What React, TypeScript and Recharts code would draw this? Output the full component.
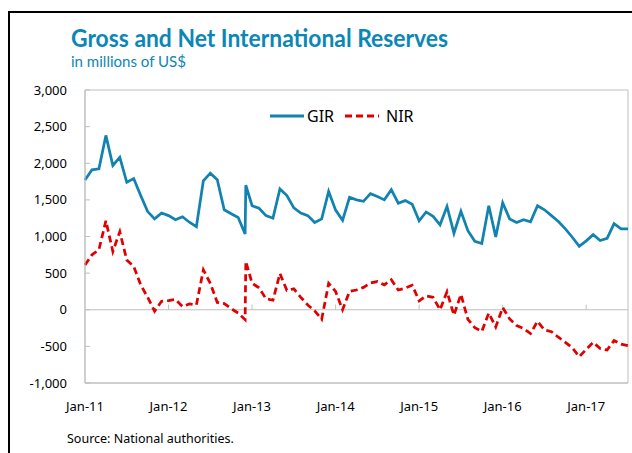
import React from 'react';
import { LineChart, Line, XAxis, YAxis, ReferenceLine, ReferenceArea, Legend } from 'recharts';

// Months since Jan-2011 (one extra observation late Dec-2012)
const monthsSinceJan2011 = [
  0, 1, 2, 3, 4, 5, 6, 7, 8, 9,
  10, 11, 12, 13, 14, 15, 16, 17, 18, 19,
  20, 21, 22, 23, 23.1,
  24, 25, 26, 27, 28, 29, 30, 31, 32, 33,
  34, 35, 36, 37, 38, 39, 40, 41, 42, 43,
  44, 45, 46, 47, 48, 49, 50, 51, 52, 53,
  54, 55, 56, 57, 58, 59, 60, 61, 62, 63,
  64, 65, 66, 67, 68, 69, 70, 71, 72, 73,
  74, 75, 76, 77, 78,
];

const girValues = [
  1770, 1910, 1925, 2380, 1970, 2080, 1740, 1790, 1560, 1340,
  1240, 1320, 1285, 1230, 1270, 1195, 1135, 1760, 1865, 1775,
  1365, 1310, 1260, 1035, 1700,
  1420, 1385, 1285, 1250, 1650, 1560, 1390, 1320, 1285, 1190,
  1240, 1615, 1360, 1220, 1535, 1500, 1480, 1585, 1545, 1500,
  1640, 1455, 1490, 1440, 1215, 1335, 1275, 1160, 1410, 1045,
  1345, 1080, 935, 905, 1420, 995, 1460, 1240, 1190, 1230,
  1200, 1420, 1365, 1285, 1205, 1105, 990, 865, 940, 1025,
  945, 975, 1175, 1105, 1105,
];

const nirValues = [
  610, 750, 820, 1215, 795, 1065, 680, 590, 340, 170,
  -20, 115, 125, 140, 45, 80, 65, 545, 360, 100,
  85, 15, -45, -135, 660,
  362, 300, 150, 130, 495, 265, 285, 170, 65, -15,
  -130, 360, 250, 0, 250, 270, 305, 365, 385, 340,
  410, 270, 295, 335, 120, 190, 170, 0, 247, -75,
  210, -130, -245, -295, -45, -235, 30, -125, -215, -255,
  -325, -158, -276, -299, -375, -445, -520, -641, -540, -445,
  -530, -550, -420, -470, -490,
];

const yearTicks = [0, 12, 24, 36, 48, 60, 72];
const yearLabels = ['Jan-11', 'Jan-12', 'Jan-13', 'Jan-14', 'Jan-15', 'Jan-16', 'Jan-17'];
const yTicks = [-1000, -500, 0, 500, 1000, 1500, 2000, 2500, 3000];

const data = monthsSinceJan2011.map((m, i) => ({ m, GIR: girValues[i], NIR: nirValues[i] }));

const FONT = "'Noto Sans', 'DejaVu Sans', sans-serif";
const TITLE_FONT = "Lato, 'Noto Sans', sans-serif";
const BLUE = '#1283B0';
const TITLE_BLUE = '#0B87B6';
const RED = '#E00000';
const GREY = '#BFBFBF';

const renderLegend = (props: any) => {
  const { payload } = props;
  return (
    <div style={{ display: 'flex', alignItems: 'center', fontFamily: FONT, fontSize: 16, color: '#000', lineHeight: '20px' }}>
      {(payload || []).map((entry: any, i: number) => (
        <div key={i} style={{ display: 'flex', alignItems: 'center', marginLeft: i === 0 ? 0 : 11 }}>
          <svg width={34} height={6}>
            <line x1={0} y1={3} x2={34} y2={3} stroke={entry.color} strokeWidth={3}
              strokeDasharray={entry.payload && entry.payload.strokeDasharray} />
          </svg>
          <span style={{ marginLeft: i === 0 ? 3 : 7 }}>{entry.value}</span>
        </div>
      ))}
    </div>
  );
};

export default function App() {
  return (
    <div style={{ position: 'fixed', left: 0, top: 0, width: 632, height: 453, background: '#fff', fontFamily: FONT, overflow: 'hidden' }}>
      <div style={{ position: 'absolute', left: 8, top: 11, width: 624, height: 2, background: '#000' }} />
      <div style={{ position: 'absolute', left: 8, top: 11, width: 2, height: 442, background: '#000' }} />
      <svg style={{ position: 'absolute', left: 0, top: 0 }} width={632} height={453}>
        <text x={71} y={46.5} fontFamily={TITLE_FONT} fontWeight={700} fontSize={24} fill={TITLE_BLUE}
          textLength={377} lengthAdjust="spacingAndGlyphs">Gross and Net International Reserves</text>
        <text x={71} y={67} fontFamily={TITLE_FONT} fontSize={15} fill={TITLE_BLUE}
          textLength={115} lengthAdjust="spacingAndGlyphs">in millions of US$</text>
        <text x={67} y={443} fontFamily={FONT} fontSize={12.5} fill="#000">Source: National authorities.</text>
      </svg>
      <div style={{ position: 'absolute', left: 0, top: 0 }}>
        <LineChart width={632} height={453} data={data} margin={{ top: 90, right: 4, bottom: 40, left: 0 }}>
          <ReferenceArea x1={0} x2={78} y1={-1000} y2={3000} fill="none" stroke={GREY} strokeWidth={1} ifOverflow="visible" />
          <ReferenceLine y={0} stroke={GREY} strokeWidth={1} />
          {yearTicks.slice(1).map((t) => (
            <ReferenceLine key={t} segment={[{ x: t, y: 0 }, { x: t, y: 70 }]} stroke={GREY} strokeWidth={1} />
          ))}
          <XAxis
            dataKey="m"
            type="number"
            domain={[0, 78]}
            ticks={yearTicks}
            tickFormatter={(v: number) => yearLabels[yearTicks.indexOf(v)] || ''}
            axisLine={{ stroke: GREY }}
            tickLine={false}
            tickSize={0}
            tickMargin={19}
            height={30}
            interval={0}
            tick={{ fontSize: 13, fill: '#000', fontFamily: FONT }}
          />
          <YAxis
            type="number"
            domain={[-1000, 3000]}
            ticks={yTicks}
            tickFormatter={(v: number) => v.toLocaleString('en-US')}
            axisLine={{ stroke: GREY }}
            tickLine={{ stroke: GREY }}
            tickSize={-5}
            tickMargin={23}
            width={85}
            interval={0}
            tick={{ fontSize: 13, fill: '#000', fontFamily: FONT }}
          />
          <Legend
            layout="horizontal"
            verticalAlign="middle"
            align="center"
            content={renderLegend}
            wrapperStyle={{ left: 270, top: 106, width: 'auto', height: 20 }}
          />
          <Line type="linear" dataKey="GIR" name="GIR" stroke={BLUE} strokeWidth={2.75} dot={false} isAnimationActive={false} />
          <Line type="linear" dataKey="NIR" name="NIR" stroke={RED} strokeWidth={2.75} strokeDasharray="7 4" dot={false} isAnimationActive={false} />
        </LineChart>
      </div>
    </div>
  );
}
